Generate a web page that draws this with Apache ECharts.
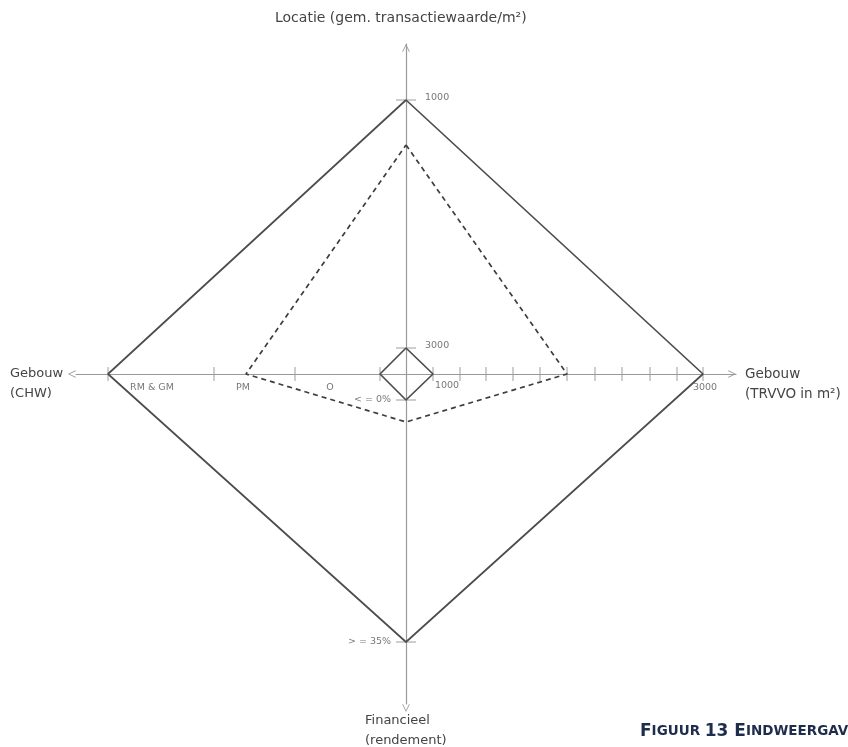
<!DOCTYPE html>
<html>
<head>
<meta charset="utf-8">
<script src="https://cdn.jsdelivr.net/npm/echarts@6/dist/echarts.min.js"></script>
<style>
  html, body { margin: 0; padding: 0; background: #fff; }
  #chart { width: 848px; height: 747px; }
</style>
</head>
<body>
<div id="chart"></div>
<script>
// scores along the four axes, order: top (Locatie), right (TRVVO), bottom (Financieel), left (CHW)
var maxProfile = [274, 297, 268, 298];
var resultProfile = [229, 161, 48, 160];
var minProfile = [26, 27, 26, 26];

// tick marks on the horizontal axis
var rightTicks = [27, 54, 80, 107, 134, 161, 189, 216, 244, 271, 297];
var leftTicks = [-298, -192, -111, -26];
// tick marks on the vertical axis
var verticalTicks = [274, 26, -26, -268];

// tick labels: [x, y, text, side]
var tickLabels = [
    [0, 274, '1000', 'right'],
    [0, 26, '3000', 'right'],
    [27, 0, '1000', 'belowRight'],
    [0, -26, '< = 0%', 'left'],
    [0, -268, '> = 35%', 'left'],
    [299, 0, '3000', 'below'],
    [-254, 0, 'RM & GM', 'below'],
    [-163, 0, 'PM', 'below'],
    [-76, 0, 'O', 'below']
];

var axisNames = {
    top: 'Locatie (gem. transactiewaarde/m²)',
    right: 'Gebouw\n(TRVVO in m²)',
    bottom: 'Financieel\n(rendement)',
    left: 'Gebouw\n(CHW)'
};

function diamond(p) {
    return [[0, p[0]], [p[1], 0], [0, -p[2]], [-p[3], 0], [0, p[0]]];
}

var chevron = 'path://M0,10 L5,0 L10,10 L9.1,10.7 L5,2.3 L0.9,10.7 Z';
var axisColor = '#999';
var txtFont = '"DejaVu Sans", Verdana, sans-serif';

var labelPos = {
    right: { position: 'right', offset: [14, -2] },
    left: { position: 'left', offset: [-10, 0] },
    below: { position: 'bottom', offset: [0, 4] },
    belowRight: { position: 'bottom', offset: [14, 2] }
};

var labelData = tickLabels.map(function (t) {
    return {
        value: [t[0], t[1]],
        label: {
            show: true,
            formatter: t[2],
            position: labelPos[t[3]].position,
            offset: labelPos[t[3]].offset
        }
    };
});

var option = {
    backgroundColor: '#fff',
    animation: false,
    grid: { left: 76, right: 112, top: 44, bottom: 43 },
    xAxis: {
        type: 'value',
        min: -330,
        max: 330,
        axisLine: {
            onZero: true,
            lineStyle: { color: axisColor, width: 1.2 },
            symbol: [chevron, chevron],
            symbolSize: [13, 8],
            symbolOffset: [-4, -4]
        },
        axisTick: { show: false },
        axisLabel: { show: false },
        splitLine: { show: false }
    },
    yAxis: {
        type: 'value',
        min: -330,
        max: 330,
        axisLine: {
            onZero: true,
            lineStyle: { color: axisColor, width: 1.2 },
            symbol: [chevron, chevron],
            symbolSize: [13, 8],
            symbolOffset: [-4, -4]
        },
        axisTick: { show: false },
        axisLabel: { show: false },
        splitLine: { show: false }
    },
    graphic: [
        {
            type: 'text', left: 275, top: 11,
            style: { text: axisNames.top, font: '14px ' + txtFont, fill: '#444' }
        },
        {
            type: 'text', left: 10, top: 364,
            style: { text: axisNames.left, font: '13px ' + txtFont, fill: '#444', lineHeight: 20 }
        },
        {
            type: 'text', left: 745, top: 364,
            style: { text: axisNames.right, font: '13.5px ' + txtFont, fill: '#444', lineHeight: 20 }
        },
        {
            type: 'text', left: 365, top: 711,
            style: { text: axisNames.bottom, font: '13px ' + txtFont, fill: '#444', lineHeight: 20 }
        },
        {
            type: 'text', left: 640, top: 723,
            style: {
                rich: {
                    a: { fontSize: 17, fontWeight: 'bold', fill: '#1f2d4d', fontFamily: txtFont },
                    b: { fontSize: 13.5, fontWeight: 'bold', fill: '#1f2d4d', fontFamily: txtFont }
                },
                text: '{a|F}{b|IGUUR }{a|13 E}{b|INDWEERGAVE}'
            }
        }
    ],
    series: [
        {
            type: 'line',
            data: diamond(maxProfile),
            symbol: 'none',
            lineStyle: { color: '#4d4d4d', width: 1.7 },
            z: 3
        },
        {
            type: 'line',
            data: diamond(resultProfile),
            symbol: 'none',
            lineStyle: { color: '#3d3d3d', width: 1.7, type: [5, 4] },
            z: 3
        },
        {
            type: 'line',
            data: diamond(minProfile),
            symbol: 'none',
            lineStyle: { color: '#4d4d4d', width: 1.7 },
            z: 3
        },
        {
            type: 'scatter',
            data: rightTicks.concat(leftTicks).map(function (v) { return [v, 0]; }),
            symbol: 'rect',
            symbolSize: [1.2, 14],
            itemStyle: { color: axisColor },
            silent: true,
            z: 2
        },
        {
            type: 'scatter',
            data: verticalTicks.map(function (v) { return [0, v]; }),
            symbol: 'rect',
            symbolSize: [20, 1.2],
            itemStyle: { color: axisColor },
            silent: true,
            z: 2
        },
        {
            type: 'scatter',
            data: labelData,
            symbolSize: 0,
            label: { color: '#555', fontSize: 9.5, fontFamily: txtFont },
            silent: true,
            z: 4
        }
    ]
};

var myChart = echarts.init(document.getElementById('chart'));
myChart.setOption(option);
</script>
</body>
</html>
